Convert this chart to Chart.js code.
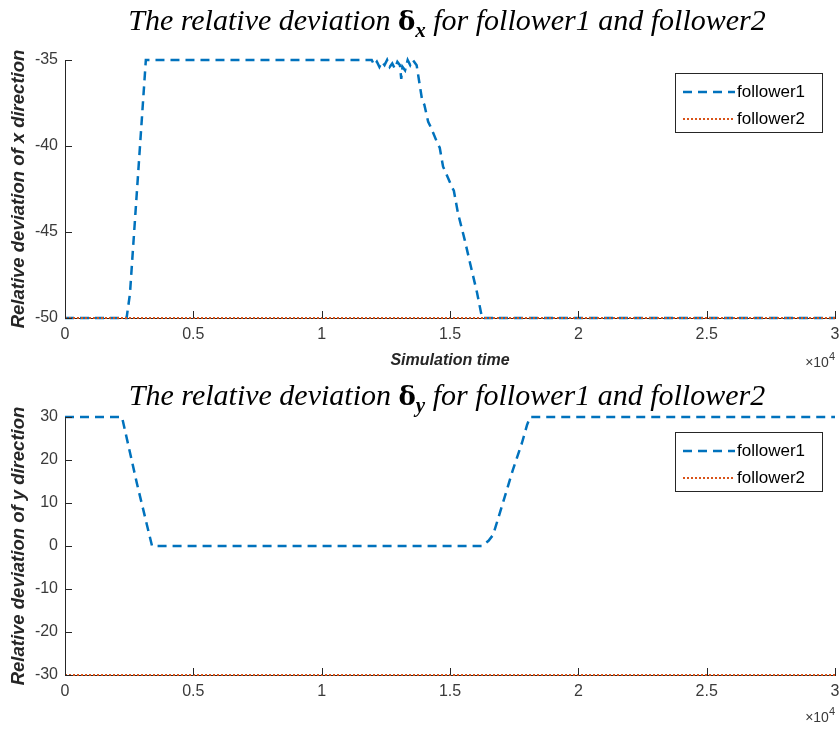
<!DOCTYPE html>
<html>
<head>
<meta charset="utf-8">
<script src="https://cdn.jsdelivr.net/npm/chart.js@4.4.0/dist/chart.umd.min.js"></script>
<style>
  html, body { margin: 0; padding: 0; background: #fff; }
  #wrap { position: relative; width: 839px; height: 729px; }
  canvas { position: absolute; left: 0; }
</style>
</head>
<body>
<div id="wrap">
  <canvas id="chartX" width="839" height="370" style="top:0"></canvas>
  <canvas id="chartY" width="839" height="359" style="top:370px"></canvas>
</div>
<script>
// ---- data ----
const seriesNames = ["follower1", "follower2"];
const timeTicks = [0, 5000, 10000, 15000, 20000, 25000, 30000];

// delta x, follower1
const dxTime = [0, 2400, 2530, 3150, 11950, 12050, 12150, 12250, 12350, 12450, 12550, 12650, 12750,
  12850, 12950, 13050, 13100, 13150, 13250, 13350, 13450, 13550, 13700, 13910, 14000, 14150, 14250,
  14500, 14600, 14730, 15080, 15150, 15310, 15580, 15780, 16050, 16250, 30000];
const dxFollower1 = [-50, -50, -48.6, -35, -35, -35.3, -35.1, -35.4, -35.1, -35.3, -35.0, -35.4, -35.2,
  -35.5, -35.1, -35.3, -36.1, -35.4, -35.6, -35.0, -35.3, -35.0, -35.3, -37.3, -37.6, -38.6, -38.9,
  -39.8, -40.1, -41.2, -42.4, -42.6, -43.9, -45.5, -46.8, -48.5, -50, -50];
// delta x, follower2
const dxTime2 = [0, 30000];
const dxFollower2 = [-50, -50];
const dxTicks = [-50, -45, -40, -35];

// delta y, follower1
const dyTime = [0, 2220, 2800, 3390, 16250, 16500, 16680, 17060, 17450, 17800, 18000, 18120, 30000];
const dyFollower1 = [30, 30, 14.6, 0, 0, 1.2, 2.6, 10, 17.7, 23.9, 28.1, 30, 30];
// delta y, follower2
const dyTime2 = [0, 30000];
const dyFollower2 = [-30, -30];
const dyTicks = [-30, -20, -10, 0, 10, 20, 30];

const blue = "#0072BD";
const orange = "#D95319";
const axisColor = "#262626";
const tickColor = "#3a3a3a";

// ---- plugins ----
const mathTitle = {
  id: "mathTitle",
  afterDraw(chart, args, opts) {
    const ctx = chart.ctx;
    const runs = [
      { t: opts.pre, f: "italic 30px 'Liberation Serif'", dy: 0 },
      { t: "δ", f: "bold 26px 'DejaVu Serif'", dy: 0 },
      { t: opts.sub, f: "bold italic 21px 'Liberation Serif'", dy: 7 },
      { t: opts.post, f: "italic 30px 'Liberation Serif'", dy: 0 }
    ];
    ctx.save();
    let total = 0;
    runs.forEach(r => { ctx.font = r.f; r.w = ctx.measureText(r.t).width; total += r.w; });
    let x = opts.cx - total / 2;
    ctx.fillStyle = "#000";
    ctx.textBaseline = "alphabetic";
    runs.forEach(r => { ctx.font = r.f; ctx.fillText(r.t, x, opts.base + r.dy); x += r.w; });
    ctx.restore();
  }
};

const inwardTicks = {
  id: "inwardTicks",
  afterDraw(chart) {
    const { ctx, chartArea: a, scales: { x, y } } = chart;
    ctx.save();
    ctx.strokeStyle = axisColor;
    ctx.lineWidth = 1;
    ctx.beginPath();
    x.ticks.forEach(t => {
      const px = Math.round(x.getPixelForValue(t.value)) + 0.5;
      ctx.moveTo(px, a.bottom); ctx.lineTo(px, a.bottom - 7);
    });
    y.ticks.forEach(t => {
      const py = Math.round(y.getPixelForValue(t.value)) + 0.5;
      ctx.moveTo(a.left, py); ctx.lineTo(a.left + 7, py);
    });
    ctx.stroke();
    // x10^4 multiplier
    ctx.fillStyle = tickColor;
    ctx.textBaseline = "alphabetic";
    ctx.textAlign = "right";
    ctx.font = "11px 'Liberation Sans'";
    const expY = chart.options.plugins.inwardTicks.expY;
    ctx.fillText("4", a.right, expY - 7);
    const w4 = ctx.measureText("4").width;
    ctx.font = "14px 'Liberation Sans Narrow', 'Liberation Sans'";
    ctx.fillText("\u00d710", a.right - w4, expY);
    ctx.restore();
  }
};

const boxLegend = {
  id: "boxLegend",
  afterDraw(chart, args, opts) {
    const { ctx, chartArea: a } = chart;
    const w = 147, h = 59;
    const left = a.right - 13 - w, top = a.top + opts.offTop;
    ctx.save();
    ctx.fillStyle = "#fff";
    ctx.fillRect(left, top, w, h);
    ctx.strokeStyle = axisColor;
    ctx.lineWidth = 1;
    ctx.strokeRect(Math.round(left) + 0.5, Math.round(top) + 0.5, w, h);
    chart.data.datasets.forEach((ds, i) => {
      const ly = top + 19 + i * 27;
      ctx.beginPath();
      ctx.strokeStyle = ds.borderColor;
      ctx.lineWidth = ds.borderWidth;
      ctx.setLineDash(ds.borderDash);
      ctx.moveTo(left + 8, ly);
      ctx.lineTo(left + 60, ly);
      ctx.stroke();
      ctx.setLineDash([]);
      ctx.fillStyle = "#000";
      ctx.font = "17px 'Liberation Sans'";
      ctx.textBaseline = "middle";
      ctx.fillText(ds.label, left + 62, ly);
    });
    ctx.restore();
  }
};

function makeChart(id, cfg) {
  const xTitle = cfg.xTitle;
  return new Chart(document.getElementById(id), {
    type: "line",
    data: {
      datasets: [
        {
          label: seriesNames[0],
          data: cfg.t1.map((t, i) => ({ x: t, y: cfg.v1[i] })),
          borderColor: blue, borderWidth: 2.5, borderDash: [9, 6],
          pointRadius: 0, tension: 0, fill: false, clip: 4, order: 1
        },
        {
          label: seriesNames[1],
          data: cfg.t2.map((t, i) => ({ x: t, y: cfg.v2[i] })),
          borderColor: orange, borderWidth: 2, borderDash: [2, 2],
          pointRadius: 0, tension: 0, fill: false, clip: 4, order: 0
        }
      ]
    },
    options: {
      responsive: false,
      animation: false,
      layout: { padding: { left: 0, right: 4, top: cfg.padTop, bottom: 0 } },
      plugins: {
        legend: { display: false },
        tooltip: { enabled: false },
        mathTitle: { pre: "The relative deviation ", sub: cfg.sub, post: " for follower1 and follower2", cx: 447, base: cfg.titleBase },
        inwardTicks: { expY: cfg.expY },
        boxLegend: { offTop: cfg.legTop }
      },
      scales: {
        x: {
          type: "linear",
          min: 0, max: 30000,
          afterBuildTicks: s => { s.ticks = timeTicks.map(v => ({ value: v })); },
          afterFit: s => { s.height = cfg.xHeight; s.paddingLeft = 0; s.paddingRight = 0; },
          grid: { drawOnChartArea: false, drawTicks: false },
          border: { display: true, color: axisColor, width: 1 },
          ticks: {
            color: tickColor, padding: 7, maxRotation: 0,
            font: { family: "'Liberation Sans Narrow', 'Liberation Sans'", size: 16 },
            callback: v => String(v / 10000)
          },
          title: {
            display: !!xTitle, text: xTitle || "", color: axisColor,
            font: { family: "'Liberation Sans'", size: 16, style: "italic", weight: "bold" },
            padding: { top: 0, bottom: 0 }
          }
        },
        y: {
          type: "linear",
          min: cfg.yTicks[0], max: cfg.yTicks[cfg.yTicks.length - 1],
          afterBuildTicks: s => { s.ticks = cfg.yTicks.map(v => ({ value: v })); },
          afterFit: s => { s.width = 65; },
          grid: { drawOnChartArea: false, drawTicks: false },
          border: { display: true, color: axisColor, width: 1 },
          ticks: {
            color: tickColor, padding: 7,
            font: { family: "'Liberation Sans Narrow', 'Liberation Sans'", size: 16 }
          },
          title: {
            display: true, text: cfg.yTitle, color: axisColor,
            font: { family: "'Liberation Sans'", size: 18.5, style: "italic", weight: "bold" },
            padding: { top: 8, bottom: 0 }
          }
        }
      }
    },
    plugins: [mathTitle, inwardTicks, boxLegend]
  });
}

makeChart("chartX", {
  t1: dxTime, v1: dxFollower1, t2: dxTime2, v2: dxFollower2, yTicks: dxTicks,
  sub: "x", yTitle: "Relative deviation of x direction", xTitle: "Simulation time",
  padTop: 60, xHeight: 52, titleBase: 30, expY: 367, legTop: 13
});

makeChart("chartY", {
  t1: dyTime, v1: dyFollower1, t2: dyTime2, v2: dyFollower2, yTicks: dyTicks,
  sub: "y", yTitle: "Relative deviation of y direction", xTitle: "",
  padTop: 47, xHeight: 54, titleBase: 35, expY: 352, legTop: 15
});
</script>
</body>
</html>
